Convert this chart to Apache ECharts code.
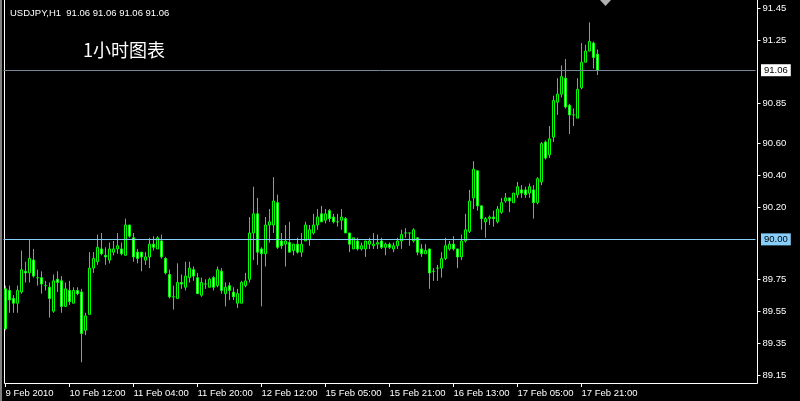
<!DOCTYPE html>
<html>
<head>
<meta charset="utf-8">
<script src="https://cdn.jsdelivr.net/npm/echarts@6/dist/echarts.min.js"></script>
<style>
html,body{margin:0;padding:0;background:#000;}
#chart{width:800px;height:401px;}
</style>
</head>
<body>
<div id="chart"></div>
<script>
// ---- data (USDJPY H1) ----
const openP  = [89.69,89.68,89.63,89.60,89.67,89.80,89.79,89.87,89.76,89.76,89.71,89.70,89.55,89.75,89.74,89.58,89.68,89.60,89.68,89.67,89.43,89.53,89.82,89.86,89.94,89.90,89.87,89.92,89.94,89.94,89.90,90.09,90.01,89.92,89.92,89.87,89.89,89.97,89.94,89.99,89.88,89.78,89.64,89.63,89.73,89.70,89.76,89.81,89.76,89.65,89.72,89.70,89.76,89.71,89.80,89.66,89.71,89.67,89.60,89.60,89.71,89.75,90.04,90.16,89.94,89.91,90.09,90.09,90.23,89.99,89.97,89.98,89.93,89.97,89.92,89.99,90.00,90.04,90.09,90.16,90.12,90.18,90.14,90.11,90.12,90.13,90.04,89.94,89.99,89.94,89.94,89.97,89.96,89.97,89.99,89.95,89.97,89.94,89.96,89.99,90.04,90.04,89.99,90.01,89.94,89.91,89.94,89.80,89.82,89.82,89.88,89.94,89.97,89.94,89.89,89.99,90.05,90.26,90.43,90.21,90.11,90.13,90.14,90.11,90.17,90.24,90.26,90.23,90.28,90.31,90.31,90.29,90.31,90.23,90.36,90.61,90.53,90.64,90.86,90.91,91.01,90.84,90.78,90.76,90.95,91.11,91.18,91.23,91.16];
const closeP = [89.44,89.62,89.60,89.68,89.81,89.79,89.88,89.77,89.76,89.72,89.71,89.63,89.74,89.73,89.58,89.69,89.61,89.68,89.66,89.41,89.52,89.82,89.88,89.95,89.91,89.89,89.94,89.94,89.96,89.91,90.09,90.02,89.89,89.88,89.89,89.89,89.97,89.95,90.01,89.89,89.79,89.64,89.64,89.73,89.72,89.77,89.82,89.77,89.66,89.73,89.72,89.75,89.70,89.81,89.68,89.70,89.68,89.64,89.66,89.73,89.74,90.04,90.16,89.92,89.91,90.09,90.11,90.24,89.95,89.96,89.99,89.92,89.97,89.92,89.97,90.09,90.06,90.09,90.14,90.11,90.16,90.13,90.11,90.11,90.14,90.04,89.97,90.01,89.94,89.96,89.99,89.99,89.97,89.98,89.95,89.97,89.95,89.96,89.99,90.03,90.04,90.04,90.06,89.92,89.91,89.93,89.79,89.80,89.82,89.88,89.96,89.97,89.94,89.89,89.99,90.06,90.24,90.44,90.21,90.13,90.13,90.14,90.13,90.19,90.23,90.26,90.24,90.29,90.33,90.29,90.28,90.33,90.23,90.38,90.60,90.51,90.63,90.87,90.91,91.02,90.83,90.78,90.78,90.94,91.11,91.18,91.24,91.14,91.06];
const lowP   = [89.43,89.54,89.54,89.54,89.66,89.73,89.73,89.76,89.71,89.66,89.68,89.51,89.54,89.67,89.54,89.58,89.59,89.60,89.65,89.23,89.40,89.53,89.79,89.84,89.90,89.84,89.85,89.90,89.91,89.90,89.90,90.01,89.86,89.85,89.80,89.84,89.82,89.93,89.94,89.88,89.78,89.63,89.56,89.63,89.69,89.68,89.73,89.74,89.66,89.64,89.69,89.70,89.68,89.70,89.66,89.58,89.62,89.62,89.57,89.60,89.70,89.73,89.87,89.84,89.58,89.83,89.98,90.04,89.94,89.94,89.83,89.92,89.90,89.91,89.89,89.99,89.96,90.03,90.06,90.11,90.10,90.11,90.10,90.08,90.06,90.04,89.92,89.94,89.93,89.93,89.89,89.94,89.94,89.94,89.94,89.90,89.94,89.92,89.94,89.94,90.01,89.96,89.98,89.90,89.89,89.91,89.69,89.74,89.74,89.76,89.87,89.93,89.93,89.82,89.87,89.98,90.04,90.19,90.18,90.06,90.01,90.09,90.08,90.10,90.16,90.23,90.17,90.23,90.26,90.26,90.26,90.26,90.13,90.22,90.34,90.50,90.51,90.61,90.78,90.89,90.82,90.66,90.71,90.76,90.94,91.11,91.18,91.07,91.03];
const highP  = [89.71,89.71,89.65,89.71,89.93,89.86,90.00,89.94,89.81,89.80,89.74,89.73,89.78,89.80,89.77,89.73,89.74,89.70,89.70,89.69,89.54,89.92,89.92,90.03,90.04,89.95,89.98,89.99,90.04,89.98,90.13,90.09,90.04,89.94,89.92,89.92,90.01,90.02,90.02,90.03,89.89,89.81,89.71,89.85,89.78,89.86,89.86,89.83,89.79,89.76,89.75,89.76,89.77,89.83,89.82,89.73,89.73,89.70,89.69,89.74,89.79,90.14,90.33,90.26,89.95,90.14,90.19,90.39,90.28,90.04,90.09,90.11,89.97,90.01,90.04,90.11,90.09,90.16,90.19,90.21,90.19,90.19,90.16,90.16,90.19,90.14,90.04,90.01,90.01,89.98,89.99,90.01,90.04,90.03,90.01,89.98,89.98,89.98,90.01,90.06,90.07,90.04,90.07,90.01,89.97,89.97,89.94,89.82,89.84,89.92,90.01,89.99,90.02,89.94,90.03,90.16,90.31,90.49,90.43,90.21,90.14,90.15,90.18,90.21,90.26,90.29,90.26,90.29,90.36,90.34,90.33,90.35,90.34,90.39,90.61,90.62,90.71,90.90,91.01,91.09,91.13,90.85,90.82,91.01,91.23,91.22,91.36,91.24,91.19];
const slotCount = 188;                       // chart slots incl. right-side shift space
const categories = Array.from({length: slotCount}, (_, i) => String(i));
const timeLabels = ["9 Feb 2010","10 Feb 12:00","11 Feb 04:00","11 Feb 20:00","12 Feb 12:00","15 Feb 05:00","15 Feb 21:00","16 Feb 13:00","17 Feb 05:00","17 Feb 21:00"];
const labelStep = 16;
const priceTicks = [91.45,91.25,90.85,90.60,90.40,90.20,89.75,89.55,89.35,89.15];
const lastPrice = 91.06;
const hLinePrice = 90.00;
const headerText = "USDJPY,H1  91.06 91.06 91.06 91.06";
const noteText = "1小时图表";

const candles = openP.map((o, i) => [o, closeP[i], lowP[i], highP[i]]);
const showIdx = (idx) => idx % labelStep === 0 && idx / labelStep < timeLabels.length;

const chart = echarts.init(document.getElementById('chart'), null, {renderer: 'canvas'});
const FONT = 'Liberation Sans';
chart.setOption({
  backgroundColor: '#000',
  animation: false,
  grid: {left: 3.5, right: 44.5, top: -1, height: 384},
  xAxis: {
    type: 'category',
    data: categories,
    boundaryGap: true,
    axisLine: {show: false},
    axisTick: {show: true, interval: (i) => showIdx(i), alignWithLabel: true, length: 4, lineStyle: {color: '#fff'}},
    axisLabel: {
      interval: (i) => showIdx(i),
      formatter: (v, i) => timeLabels[Math.round(Number(v) / labelStep)] || '',
      align: 'left', color: '#fff', fontSize: 9.5, fontFamily: FONT, margin: 5
    },
    splitLine: {show: false}
  },
  yAxis: {
    type: 'value',
    position: 'right',
    offset: 2,
    min: 89.1, max: 91.5,
    scale: true,
    axisLine: {show: false},
    axisTick: {show: true, customValues: priceTicks, length: 3, lineStyle: {color: '#fff'}},
    axisLabel: {customValues: priceTicks, formatter: (v) => v.toFixed(2), color: '#fff', fontSize: 9.5, fontFamily: FONT, margin: 5},
    splitLine: {show: false}
  },
  title: [
    {text: headerText, left: 5, top: 3, textStyle: {color: '#fff', fontSize: 9.5, fontWeight: 'normal', fontFamily: FONT}},
    {text: noteText, left: 78, top: 36, textStyle: {color: '#fff', fontSize: 18, fontWeight: 'normal', fontFamily: 'Noto Sans CJK SC'}}
  ],
  series: [{
    type: 'candlestick',
    data: candles,
    barWidth: 2,
    itemStyle: {color: '#000', color0: '#fff', borderColor: '#00ff00', borderColor0: '#00ff00', borderWidth: 1},
    markLine: {
      silent: true,
      symbol: ['none', 'none'],
      data: [
        {yAxis: lastPrice, lineStyle: {color: '#778899', width: 1, type: 'solid'},
         label: {position: 'end', distance: 5.5, formatter: lastPrice.toFixed(2), color: '#000', backgroundColor: '#fff', padding: [1, 3, 1, 3], fontSize: 9.5, lineHeight: 10, fontFamily: FONT}},
        {yAxis: hLinePrice, lineStyle: {color: '#87CEFA', width: 1, type: 'solid'},
         label: {position: 'end', distance: 5.5, formatter: hLinePrice.toFixed(2), color: '#000', backgroundColor: '#87CEFA', padding: [1, 3, 1, 3], fontSize: 9.5, lineHeight: 10, fontFamily: FONT}}
      ]
    }
  }],
  graphic: [
    {type: 'polyline', shape: {points: [[4.5, 0], [4.5, 383.5], [757.5, 383.5], [757.5, 0]]}, style: {stroke: '#fff', lineWidth: 1, fill: null}, silent: true},
    {type: 'rect', shape: {x: 0, y: 0, width: 2, height: 401}, style: {fill: '#808080'}, silent: true},
    {type: 'polygon', shape: {points: [[600, 0], [611, 0], [605.5, 6]]}, style: {fill: '#b0b0b0'}, silent: true}
  ]
});
</script>
</body>
</html>
